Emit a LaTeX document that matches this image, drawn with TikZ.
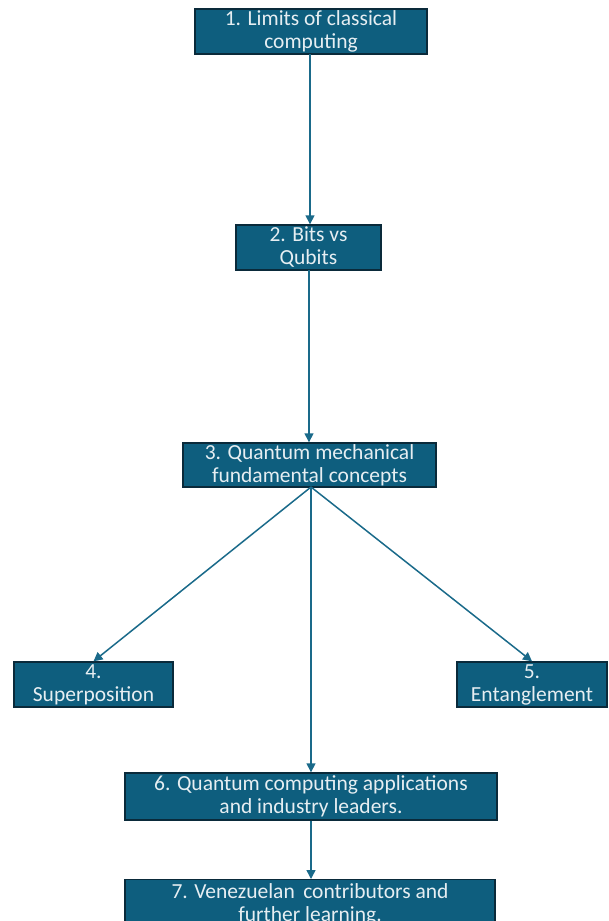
\documentclass[tikz,border=0pt]{standalone}
\usepackage{fontspec}
\setmainfont{Carlito}
\usetikzlibrary{arrows.meta}
\definecolor{boxfill}{HTML}{0E5E7E}
\definecolor{boxline}{HTML}{0A2A3A}
\definecolor{arrowc}{HTML}{1A6A8A}
\definecolor{txt}{HTML}{E6EEF2}
\tikzset{
  stage/.style={draw=boxline, line width=1.4pt, fill=boxfill, text=txt,
    inner sep=0pt, align=center,
    font=\fontsize{21.5}{23}\selectfont},
  conn/.style={draw=arrowc, line width=1.5pt, -{Triangle[length=9pt,width=9pt]}}
}
\begin{document}
\begin{tikzpicture}[x=1pt,y=-1pt]
\useasboundingbox (0,0) rectangle (608,921);
\node[stage, minimum width=232, minimum height=45] (b1) at (311,31.5) {1. Limits of classical\\computing};
\node[stage, minimum width=145, minimum height=45] (b2) at (308.5,247.5) {2. Bits vs\\Qubits};
\node[stage, minimum width=253, minimum height=44] (b3) at (309.5,465) {3. Quantum mechanical\\fundamental concepts};
\node[stage, minimum width=159, minimum height=45] (b4) at (93.5,684.5) {4.\\Superposition};
\node[stage, minimum width=150, minimum height=45] (b5) at (532,684.5) {5.\\Entanglement};
\node[stage, minimum width=372, minimum height=47] (b6) at (311,796.5) {6. Quantum computing applications\\and industry leaders.};
\node[stage, minimum width=370, minimum height=50, anchor=north] (b7) at (310,879) {\rule{0pt}{15pt}7. Venezuelan\, contributors and\\further learning.};
\coordinate (s1) at (310,54);
\coordinate (s2) at (309,270);
\coordinate (s3) at (311,487);
\draw[conn] (s1) -- (s1 |- b2.north);
\draw[conn] (s2) -- (s2 |- b3.north);
\draw[conn] (s3) -- (b4.north);
\draw[conn] (s3) -- (b5.north);
\draw[conn] (s3) -- (s3 |- b6.north);
\draw[conn] (b6.south) -- (b6.south |- b7.north);
\end{tikzpicture}
\end{document}
